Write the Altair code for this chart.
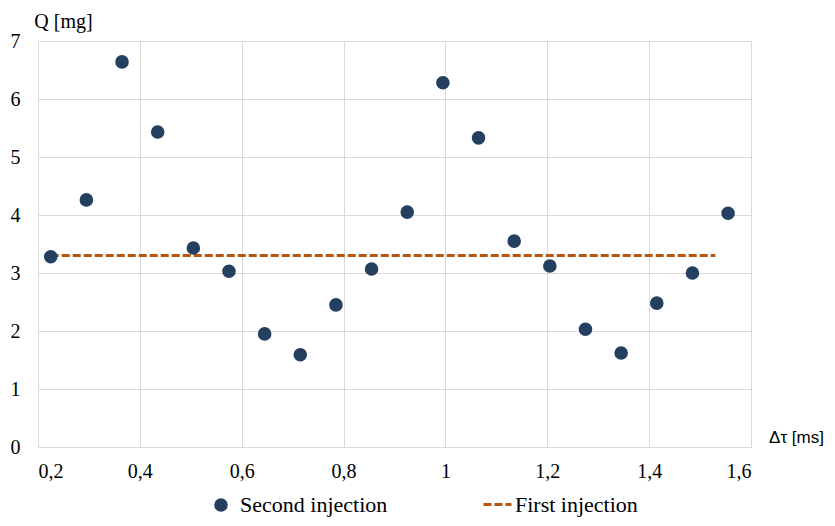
import altair as alt
import pandas as pd

# Second injection (points)
tau = [0.225, 0.295, 0.365, 0.435, 0.505, 0.575, 0.645, 0.715, 0.785, 0.855,
       0.925, 0.995, 1.065, 1.135, 1.205, 1.275, 1.345, 1.415, 1.485, 1.555]
q_second = [3.28, 4.26, 6.64, 5.43, 3.43, 3.03, 1.95, 1.59, 2.45, 3.07,
            4.05, 6.28, 5.33, 3.55, 3.12, 2.03, 1.62, 2.48, 3.00, 4.03]

# First injection (dashed level)
tau_first = [0.225, 1.53]
q_first = [3.30, 3.30]

x_ticks = [0.2, 0.4, 0.6, 0.8, 1.0, 1.2, 1.4, 1.6]
y_ticks = [0, 1, 2, 3, 4, 5, 6, 7]

NAVY = "#243F60"
ORANGE = "#B8560F"
GRID = "#D9D9D9"
SERIF = "Liberation Serif"

df_pts = pd.DataFrame({"tau": tau, "q": q_second, "series": "Second injection"})
df_line = pd.DataFrame({"tau": tau_first, "q": q_first, "series": "First injection"})

x_enc = alt.X(
    "tau:Q",
    scale=alt.Scale(domain=[0.2, 1.6], nice=False, zero=False),
    axis=alt.Axis(
        values=x_ticks,
        labelExpr="replace(format(datum.value, '.2~f'), '.', ',')",
        title="Δτ [ms]",
        titleFont="Liberation Sans",
        titleFontSize=17,
        titleFontWeight="normal",
        titleColor="#000000",
        titleAngle=0,
        titleX=758,
        titleY=-5,
        titleAlign="center",
        titleBaseline="alphabetic",
        labelFont=SERIF,
        labelFontSize=20,
        labelColor="#000000",
        labelPadding=14,
        ticks=False,
        domainColor=GRID,
        gridColor=GRID,
        labelOverlap=False,
    ),
)

y_enc = alt.Y(
    "q:Q",
    scale=alt.Scale(domain=[0, 7], nice=False),
    axis=alt.Axis(
        values=y_ticks,
        title="Q [mg]",
        titleFont=SERIF,
        titleFontSize=20,
        titleFontWeight="normal",
        titleColor="#000000",
        titleAngle=0,
        titleX=25,
        titleY=-14,
        titleAlign="center",
        titleBaseline="alphabetic",
        labelFont=SERIF,
        labelFontSize=20,
        labelColor="#000000",
        labelPadding=18,
        ticks=False,
        domainColor=GRID,
        gridColor=GRID,
    ),
)

line = alt.Chart(df_line).mark_line(strokeWidth=3, color=ORANGE).encode(
    x=x_enc,
    y=y_enc,
    strokeDash=alt.StrokeDash(
        "series:N",
        scale=alt.Scale(domain=["First injection"], range=[[8, 3]]),
        legend=alt.Legend(
            title=None,
            orient="none",
            legendX=444,
            legendY=448,
            symbolType="stroke",
            symbolSize=784,
            symbolStrokeWidth=3,
            symbolStrokeColor=ORANGE,
            labelFont=SERIF,
            labelFontSize=22,
            labelColor="#000000",
            labelOffset=2,
        ),
    ),
)

points = alt.Chart(df_pts).mark_point(filled=True, size=185, opacity=1).encode(
    x=x_enc,
    y=y_enc,
    color=alt.Color(
        "series:N",
        scale=alt.Scale(domain=["Second injection"], range=[NAVY]),
        legend=alt.Legend(
            title=None,
            orient="none",
            legendX=172,
            legendY=453,
            symbolType="circle",
            symbolSize=185,
            symbolOpacity=1,
            labelFont=SERIF,
            labelFontSize=22,
            labelColor="#000000",
            labelOffset=8,
        ),
    ),
)

chart = (
    alt.layer(line, points)
    .resolve_legend(color="independent", strokeDash="independent")
    .properties(
        width=713,
        height=406,
        autosize=alt.AutoSizeParams(type="none"),
        padding={"left": 30, "top": 33, "right": 76, "bottom": 71},
    )
    .configure(background="white", font=SERIF)
    .configure_view(stroke=None)
    .configure_axis(labelFont=SERIF, titleFont=SERIF)
    .configure_axisX(titleFont="Liberation Sans")
    .configure_legend(labelFont=SERIF)
)

chart.save("out.html", embed_options={"renderer": "svg", "actions": False})
